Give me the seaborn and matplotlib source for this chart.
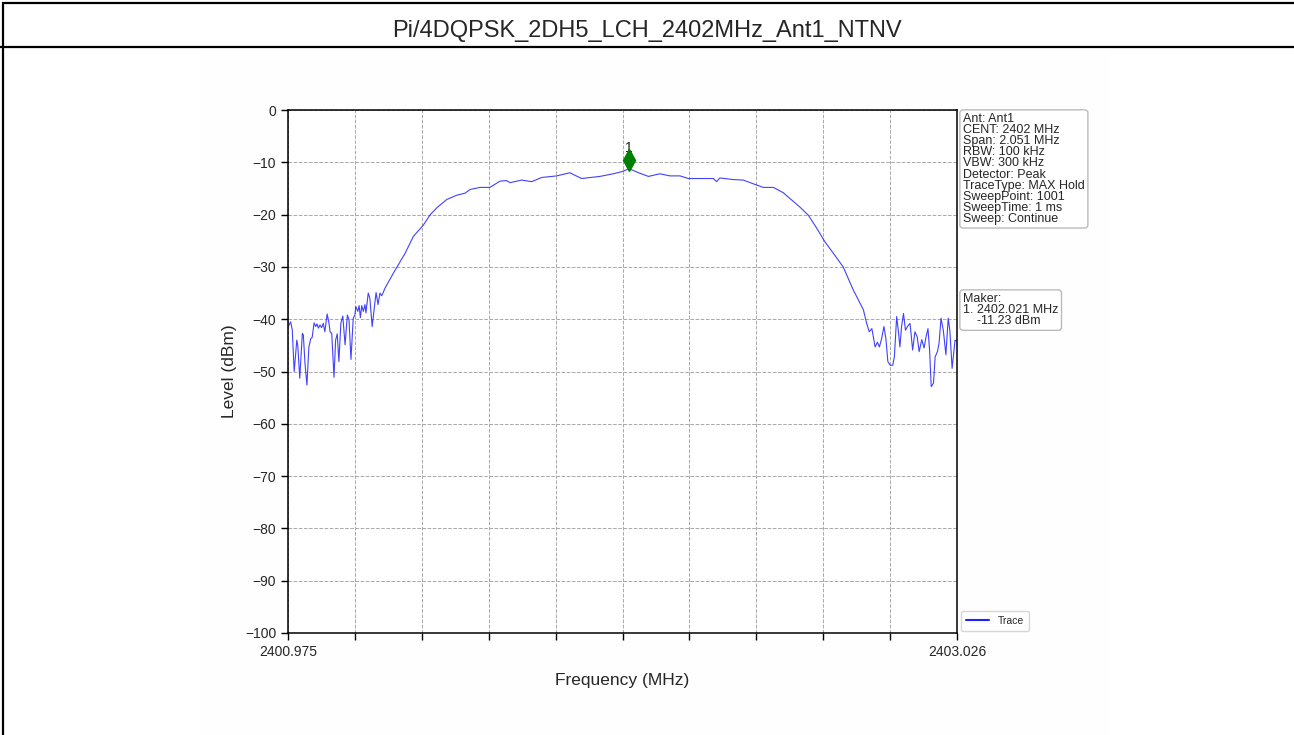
import pandas as pd
import matplotlib.pyplot as plt
import matplotlib.transforms as mtransforms
from matplotlib.patches import Rectangle
from matplotlib.lines import Line2D
import seaborn as sns

# trace (MHz, dBm)
freq_mhz = [
    2400.976, 2400.983, 2400.988, 2400.994, 2401.002, 2401.005, 2401.011, 2401.019,
    2401.022, 2401.027, 2401.033, 2401.039, 2401.045, 2401.049, 2401.055, 2401.060,
    2401.064, 2401.068, 2401.073, 2401.078, 2401.083, 2401.088, 2401.095, 2401.100,
    2401.104, 2401.109, 2401.116, 2401.121, 2401.126, 2401.131, 2401.137, 2401.143,
    2401.150, 2401.157, 2401.162, 2401.168, 2401.175, 2401.180, 2401.183, 2401.189,
    2401.193, 2401.197, 2401.201, 2401.206, 2401.211, 2401.214, 2401.221, 2401.226,
    2401.233, 2401.240, 2401.245, 2401.251, 2401.257, 2401.262, 2401.267, 2401.272,
    2401.298, 2401.334, 2401.359, 2401.390, 2401.410, 2401.431, 2401.462, 2401.492,
    2401.518, 2401.533, 2401.564, 2401.594, 2401.625, 2401.645, 2401.656, 2401.691,
    2401.722, 2401.753, 2401.799, 2401.839, 2401.875, 2401.931, 2401.972, 2401.998,
    2402.021, 2402.054, 2402.080, 2402.115, 2402.146, 2402.177, 2402.202, 2402.238,
    2402.279, 2402.289, 2402.299, 2402.340, 2402.371, 2402.401, 2402.432, 2402.463,
    2402.493, 2402.519, 2402.545, 2402.570, 2402.596, 2402.621, 2402.647, 2402.677,
    2402.708, 2402.729, 2402.739, 2402.749, 2402.757, 2402.765, 2402.775, 2402.782,
    2402.788, 2402.795, 2402.802, 2402.808, 2402.814, 2402.821, 2402.829, 2402.834,
    2402.841, 2402.846, 2402.851, 2402.856, 2402.862, 2402.868, 2402.874, 2402.882,
    2402.890, 2402.897, 2402.904, 2402.910, 2402.918, 2402.925, 2402.931, 2402.937,
    2402.942, 2402.947, 2402.954, 2402.959, 2402.966, 2402.971, 2402.977, 2402.984,
    2402.992, 2402.999, 2403.004, 2403.011, 2403.020, 2403.025,
]
level_dbm = [
    -41.4, -40.5, -42.0, -50.0, -44.0, -45.0, -51.3, -42.7,
    -43.0, -48.4, -52.6, -45.3, -43.7, -43.5, -40.7, -41.4,
    -40.9, -41.7, -41.1, -41.6, -40.8, -42.4, -39.0, -40.5,
    -42.4, -42.7, -51.1, -44.0, -42.8, -48.1, -40.8, -39.4,
    -44.9, -39.2, -40.1, -47.7, -39.8, -39.2, -37.6, -38.5,
    -37.4, -39.7, -37.4, -38.5, -37.2, -38.8, -35.0, -36.0,
    -41.4, -37.6, -34.9, -37.2, -35.0, -35.5, -34.9, -34.1,
    -31.2, -27.4, -24.2, -22.0, -20.1, -18.7, -17.1, -16.3,
    -15.9, -15.2, -14.8, -14.8, -13.6, -13.5, -13.9, -13.4,
    -13.7, -12.9, -12.6, -12.0, -13.1, -12.7, -12.2, -11.8,
    -11.23, -12.1, -12.7, -12.2, -12.6, -12.6, -13.1, -13.1,
    -13.1, -13.7, -13.0, -13.3, -13.4, -14.1, -14.8, -14.8,
    -15.8, -17.2, -18.6, -20.1, -22.6, -25.2, -27.4, -30.0,
    -34.4, -37.0, -38.2, -40.8, -42.4, -41.8, -45.3, -44.4,
    -45.3, -43.7, -41.4, -43.7, -48.1, -48.8, -48.8, -47.2,
    -39.5, -42.1, -45.3, -41.4, -38.9, -42.1, -41.4, -40.8,
    -45.9, -42.4, -43.4, -46.2, -43.9, -45.5, -43.4, -41.8,
    -46.0, -52.9, -52.2, -47.2, -46.2, -44.6, -39.8, -42.1,
    -46.8, -39.8, -42.1, -49.4, -44.0, -44.2,
]

f_start, f_stop = 2400.975, 2403.026
marker_freq = 2402.021
marker_level = -11.23

info_lines = ["Ant: Ant1", "CENT: 2402 MHz", "Span: 2.051 MHz", "RBW: 100 kHz",
              "VBW: 300 kHz", "Detector: Peak", "TraceType: MAX Hold",
              "SweepPoint: 1001", "SweepTime: 1 ms", "Sweep: Continue"]

sns.set_theme(style="ticks")
plt.rcParams['font.family'] = ['Liberation Sans', 'DejaVu Sans']

df = pd.DataFrame({"freq": freq_mhz, "level": level_dbm})

fig = plt.figure(figsize=(12.94, 7.35), dpi=100)
fig.patch.set_facecolor('white')

# very faint background of the embedded chart image
fig.add_artist(Rectangle((200 / 1294, 0), 910 / 1294, 1 - 50 / 735,
                         transform=fig.transFigure, facecolor='#fefefe',
                         edgecolor='none', zorder=0))
# report frame and title row
fig.add_artist(Rectangle((2.5 / 1294, -0.01), 1.2, 1 - 2.5 / 735 + 0.01,
                         transform=fig.transFigure, fill=False,
                         edgecolor='black', linewidth=1.6))
fig.add_artist(Line2D([0, 1], [1 - 47 / 735] * 2, transform=fig.transFigure,
                      color='black', linewidth=1.6))
fig.text(0.5, 1 - 31 / 735, "Pi/4DQPSK_2DH5_LCH_2402MHz_Ant1_NTNV",
         ha='center', va='center', fontsize=17)

ax = fig.add_axes([288 / 1294, 102 / 735, 669 / 1294, 523 / 735])
ax.set_facecolor('white')

sns.lineplot(data=df, x="freq", y="level", ax=ax, sort=False,
             color='#2020ff', linewidth=0.8, alpha=0.85, label="Trace")

# marker 1, drawn just above the peak
mk = mtransforms.offset_copy(ax.transData, fig=fig, x=0, y=6.2, units='points')
ax.plot([marker_freq], [marker_level], marker='d', color='green',
        markersize=11, transform=mk, zorder=5)
lbl = mtransforms.offset_copy(ax.transData, fig=fig, x=0, y=12, units='points')
ax.text(marker_freq, marker_level, "1", transform=lbl, ha='center',
        va='baseline', fontsize=10, color='#222222')

ax.set_xlim(f_start, f_stop)
ax.set_ylim(-100, 0)
step = (f_stop - f_start) / 10
xticks = [f_start + i * step for i in range(11)]
ax.set_xticks(xticks)
ax.set_xticklabels([f"{f_start:.3f}"] + [""] * 9 + [f"{f_stop:.3f}"])
ax.set_yticks(range(-100, 1, 10))
ax.tick_params(axis='both', labelsize=10, length=5, width=1, color='black')
ax.grid(True, linestyle='--', color='#a8a8a8', linewidth=0.7)
for s in ax.spines.values():
    s.set_color('black')
    s.set_linewidth(1.1)

ax.set_xlabel("Frequency (MHz)", fontsize=12.5, labelpad=10)
ax.set_ylabel("Level (dBm)", fontsize=12.5, labelpad=6)

box = dict(boxstyle='round,pad=0.25', facecolor='white', edgecolor='#bbbbbb')
fig.text(963 / 1294, 1 - 113 / 735, "\n".join(info_lines), ha='left', va='top',
         fontsize=9, linespacing=0.9, bbox=box)
fig.text(963 / 1294, 1 - 293 / 735,
         f"Maker:\n1. {marker_freq:.3f} MHz\n    {marker_level:.2f} dBm",
         ha='left', va='top', fontsize=9, linespacing=0.9, bbox=box)

leg = ax.legend(loc='lower left', bbox_to_anchor=(1.003, 0.0), fontsize=7.5,
                frameon=True, handlelength=2.2, borderaxespad=0.2,
                borderpad=0.5)
for h in leg.get_lines():
    h.set_linewidth(1.5)
    h.set_alpha(1.0)

fig.savefig("out.png", dpi=100)
